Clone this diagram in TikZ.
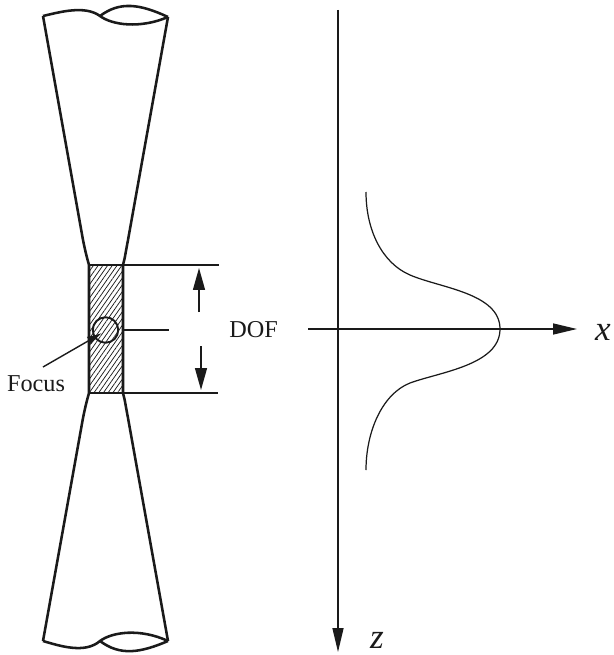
\documentclass[tikz,border=0pt]{standalone}
\usepackage{fontspec}
\setmainfont{Liberation Serif}
\usetikzlibrary{arrows.meta,patterns.meta}
\definecolor{inkgray}{HTML}{1A1A1A}

\begin{document}
\begin{tikzpicture}[
  x=0.02cm,
  y=-0.02cm,
  font=\fontsize{13.8}{16}\selectfont,
  beam/.style={draw=inkgray, line width=1.45pt, line join=round},
  thin line/.style={draw=inkgray, line width=0.75pt},
  curve/.style={draw=inkgray, line width=0.7pt},
  axis/.style={-{Triangle[length=4.8mm,width=2.2mm]}, draw=inkgray, line width=0.85pt},
  dimarrow/.style={-{Triangle[length=4.4mm,width=2.4mm]}, draw=inkgray, line width=0.8pt},
  label/.style={inner sep=0pt, text=inkgray},
  axislabel/.style={inner sep=0pt, text=inkgray, font=\fontsize{20}{22}\selectfont\itshape}
]
\useasboundingbox (0,0) rectangle (614,655);

% Beam corners
\coordinate (tl) at (43,16);
\coordinate (tr) at (168,17);
\coordinate (tm) at (100,16);
\coordinate (wl) at (89,265);
\coordinate (wr) at (123,265);
\coordinate (vl) at (89,393);
\coordinate (vr) at (123,393);
\coordinate (bl) at (43,641);
\coordinate (br) at (168,641);
\coordinate (bm) at (100,641);

% Hatched depth of field
\path[pattern={Lines[angle=55,distance=2.2pt,line width=0.42pt]}, pattern color=inkgray]
  (wl) rectangle (vr);
\draw[thin line] (wl) -- (wr) (vl) -- (vr);
\node[circle, draw=inkgray, line width=1.1pt, minimum size=0.51cm, inner sep=0pt] (focus) at (105.5,330) {};

% Beam outline
\draw[beam] (tl) .. controls (60,12) and (85,5) .. (tm)
  .. controls (112,25) and (140,29) .. (tr);
\draw[beam] (tm) .. controls (120,1) and (140,4) .. (tr);
\draw[beam] (tl) -- (83,240) .. controls (85,250) and (87,258) .. (wl) -- (vl)
  .. controls (87,400) and (85,408) .. (83,418) -- (bl);
\draw[beam] (tr) -- (128,240) .. controls (126,250) and (125,258) .. (wr) -- (vr)
  .. controls (125,400) and (126,408) .. (128,418) -- (br);
\draw[beam] (bl) .. controls (60,646) and (85,654) .. (bm)
  .. controls (112,632) and (140,628) .. (br);
\draw[beam] (bm) .. controls (120,656) and (140,653) .. (br);

% Dimension lines and labels
\coordinate (dimtop) at (219,265);
\coordinate (dimbot) at (218,393);
\coordinate (dimmid) at (169,330);
\draw[thin line] (wr) -- (dimtop);
\draw[thin line] (vr) -- (dimbot);
\draw[thin line] (wr |- dimmid) -- (dimmid);
\coordinate (upstart) at (199,312);
\coordinate (upend) at (199,268);
\coordinate (downstart) at (201,346);
\coordinate (downend) at (201,390);
\draw[dimarrow] (upstart) -- (upend);
\draw[dimarrow] (downstart) -- (downend);
\node[label] (dof) at (253.5,330) {DOF};
\node[label] (focuslabel) at (36,384) {Focus};
\coordinate (focusstart) at (43,367);
\coordinate (focustip) at (102,333);
\draw[-{Latex[length=3mm,width=1.7mm]}, draw=inkgray, line width=0.8pt] (focusstart) -- (focustip);

% Axes
\coordinate (zstart) at (338,10);
\coordinate (zend) at (338,652);
\coordinate (xstart) at (308,329);
\coordinate (xend) at (577,329);
\draw[axis] (zstart) -- (zend);
\draw[axis] (xstart) -- (xend);
\node[axislabel] (xlabel) at (603,332) {x};
\node[axislabel] (zlabel) at (377,640) {z};

% Intensity profile
\draw[curve] (366,192) .. controls (366,230) and (382,263) .. (410,275)
  .. controls (440,288) and (500,293) .. (500,329)
  .. controls (500,365) and (440,372) .. (410,383)
  .. controls (382,394) and (366,432) .. (366,470);
\end{tikzpicture}
\end{document}
